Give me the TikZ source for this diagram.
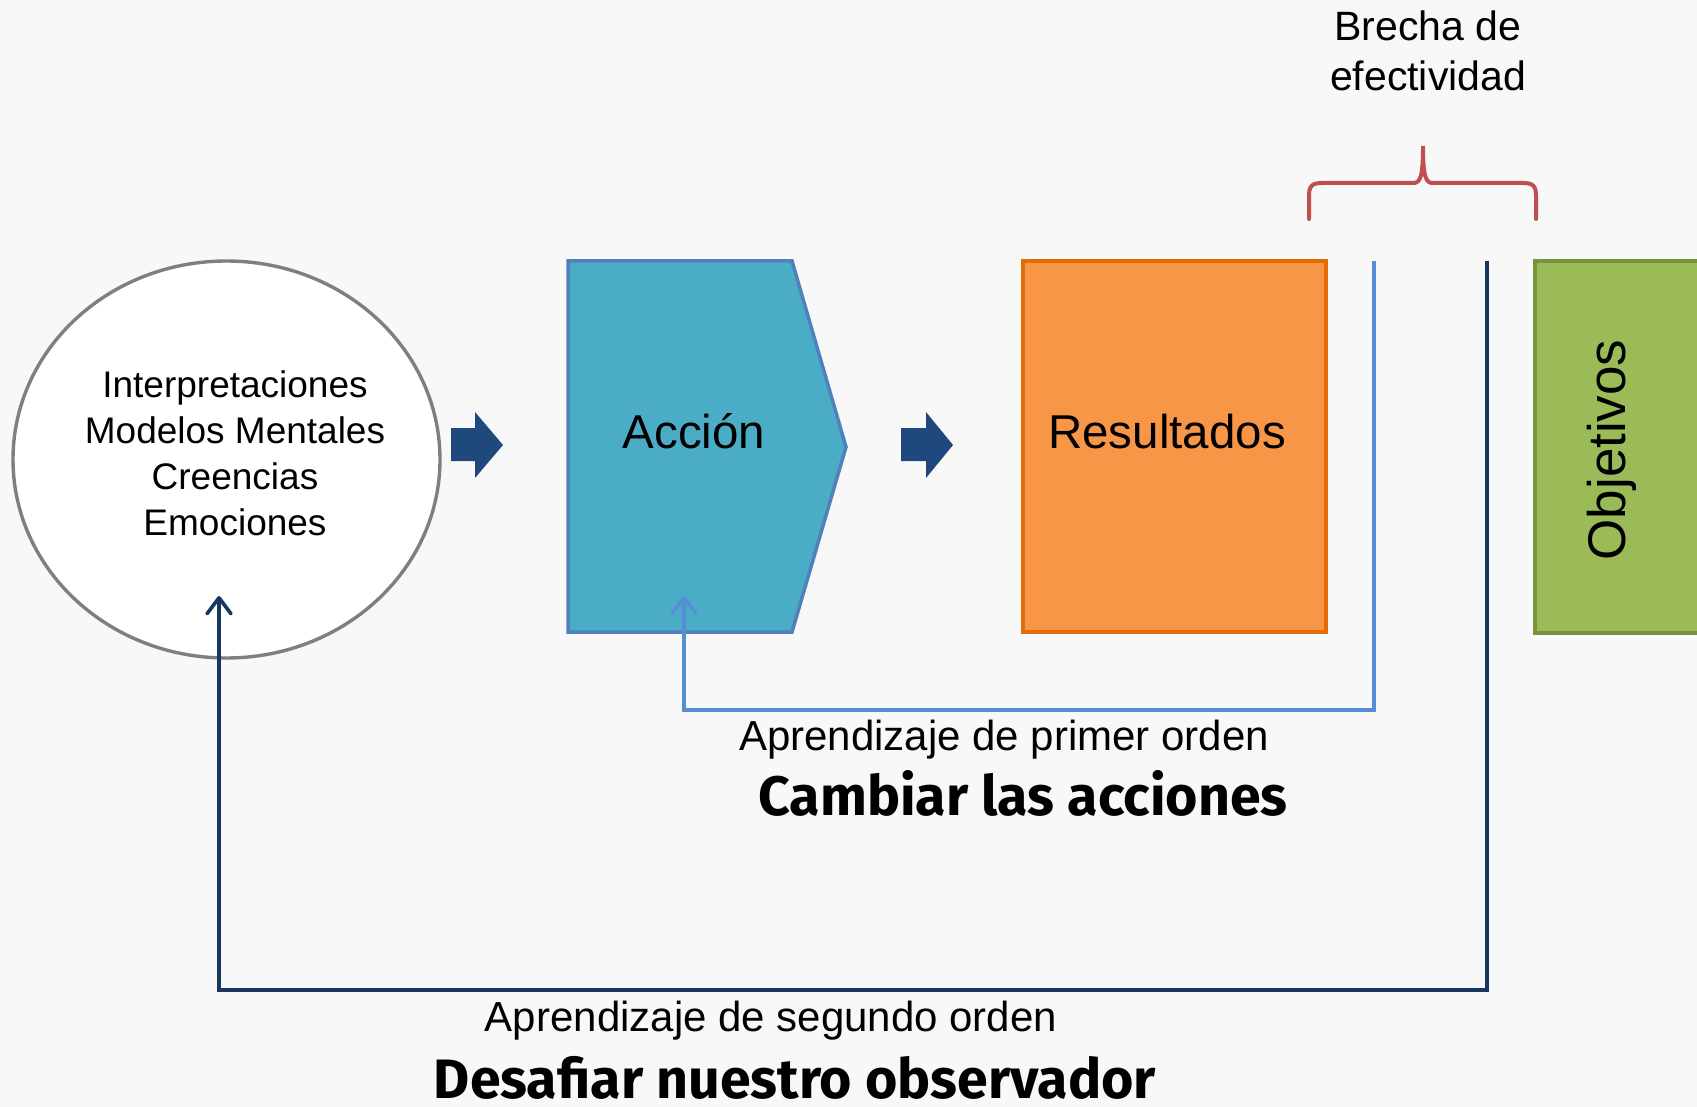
\documentclass[tikz,border=0pt]{standalone}
\usepackage{fontspec}
\setmainfont{Liberation Sans}
\newfontfamily\boldfont{Fira Sans}
\usetikzlibrary{shapes.geometric,arrows.meta}
\definecolor{bg}{HTML}{F8F8F8}
\definecolor{ellgray}{HTML}{7F7F7F}
\definecolor{accfill}{HTML}{4BACC6}
\definecolor{accborder}{HTML}{4F81BD}
\definecolor{resfill}{HTML}{F79646}
\definecolor{resborder}{HTML}{E36C09}
\definecolor{objfill}{HTML}{9BBB59}
\definecolor{objborder}{HTML}{77933C}
\definecolor{arrowblue}{HTML}{1F497D}
\definecolor{lightblue}{HTML}{558ED5}
\definecolor{darkblue}{HTML}{17375E}
\definecolor{bracered}{HTML}{C0504D}
\begin{document}
\begin{tikzpicture}[x=1pt,y=-1pt,
  obsshape/.style={ellipse, draw=ellgray, line width=3.4pt, fill=white, minimum width=427pt, minimum height=397pt, inner sep=0pt},
  boxshape/.style={line width=3.5pt, inner sep=0pt},
  txt/.style={inner sep=0pt, anchor=base, text=black},
  blockarrow/.style={fill=arrowblue},
  barb/.style={-{Straight Barb[length=16pt,width=24pt,line cap=round,line join=round]}},
  loopone/.style={draw=lightblue, line width=3.6pt, barb},
  looptwo/.style={draw=darkblue, line width=3.6pt, barb},
  bigbold/.style={font=\boldfont\bfseries\fontsize{55.5}{60}\selectfont}
]
\useasboundingbox (0,0) rectangle (1697,1107);
\fill[bg] (0,0) rectangle (1697,1107);

% observer ellipse
\node[obsshape] (obs) at (226.5,459.5) {};
\node[txt, align=center, font=\fontsize{37}{45.8}\selectfont] (obstext) at (235,535)
  {Interpretaciones\\Modelos Mentales\\Creencias\\Emociones};

% block arrows
\fill[blockarrow] (451,428) -- (475,428) -- (475,412) -- (503,445) -- (475,478) -- (475,461) -- (451,461) -- cycle;
\fill[blockarrow] (901,428) -- (926,428) -- (926,412) -- (953,445) -- (926,478) -- (926,461) -- (901,461) -- cycle;

% accion
\filldraw[fill=accfill, draw=accborder, line width=3.5pt, line join=miter]
  (568,261) -- (792,261) -- (846,447) -- (792,632) -- (568,632) -- cycle;
\node[txt, font=\fontsize{47.5}{50}\selectfont] (accion) at (694,448) {Acción};

% resultados
\node[boxshape, draw=resborder, fill=resfill, minimum width=303pt, minimum height=371pt] (res) at (1174.5,446.5) {};
\node[txt, font=\fontsize{47.5}{50}\selectfont] (restext) at (1167,448) {Resultados};

% objetivos
\node[boxshape, draw=objborder, fill=objfill, minimum width=166pt, minimum height=372pt] (obj) at (1618,447) {};
\node[txt, rotate=90, font=\fontsize{53}{60}\selectfont] (objtext) at (1625,450) {Objetivos};

% feedback loops
\coordinate (g1) at (1374,261);
\coordinate (t1) at (684,596);
\coordinate (g2) at (1487,261);
\coordinate (t2) at (219,596);
\draw[loopone] (g1) -- (1374,710) -| (t1);
\draw[looptwo] (g2) -- (1487,990) -| (t2);

% labels
\node[txt, font=\fontsize{42}{50}\selectfont] (l1) at (1004,750) {Aprendizaje de primer orden};
\node[txt, bigbold] (l1b) at (1023,815) {Cambiar las acciones};
\node[txt, font=\fontsize{42}{50}\selectfont] (l2) at (771,1031) {Aprendizaje de segundo orden};
\node[txt, bigbold] (l2b) at (795,1098) {Desafiar nuestro observador};

% gap
\node[txt, align=center, font=\fontsize{41}{50}\selectfont] (gap) at (1428,90.7) {Brecha de\\efectividad};
\draw[draw=bracered, line width=4pt, line cap=round]
  (1309,219) -- (1309,196) .. controls (1309,186) and (1312,183) .. (1322,183)
  -- (1413,183) .. controls (1420,183) and (1423,178) .. (1423,146)
  .. controls (1423,178) and (1426,183) .. (1433,183)
  -- (1523,183) .. controls (1533,183) and (1536,186) .. (1536,196) -- (1536,219);
\end{tikzpicture}
\end{document}
